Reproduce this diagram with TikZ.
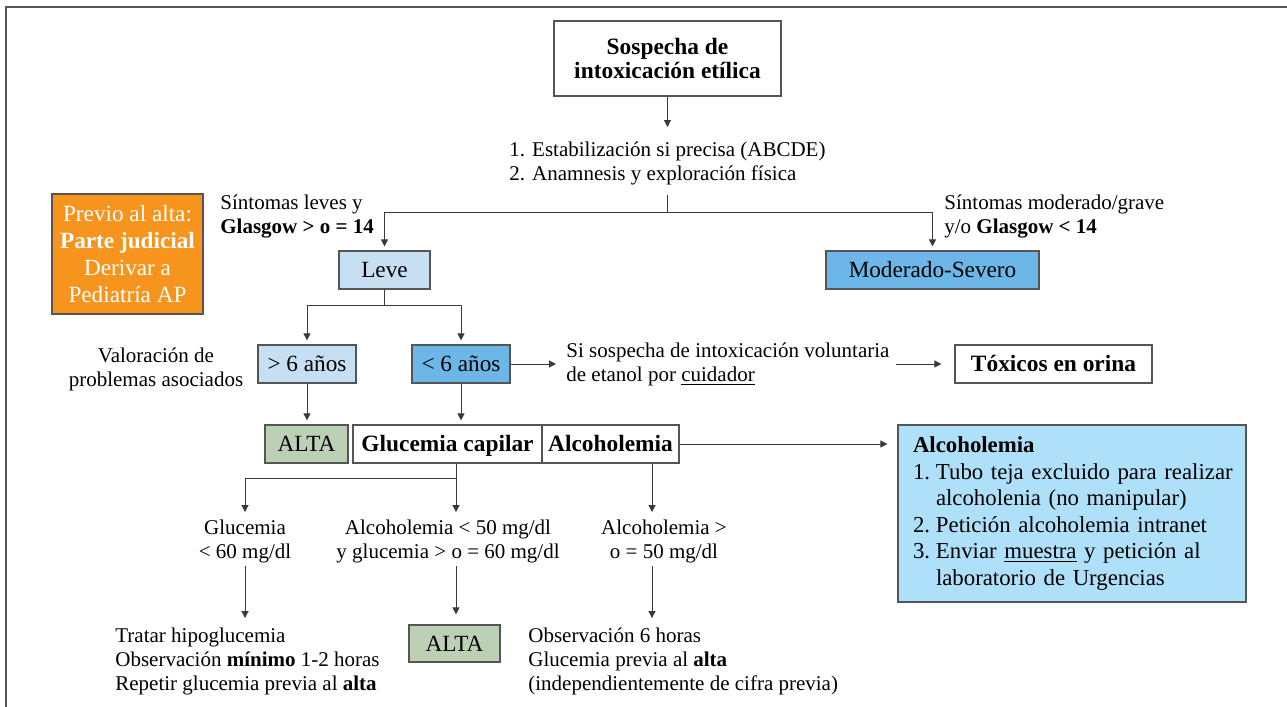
\documentclass[tikz,border=0pt]{standalone}
\usepackage{fontspec}
\setmainfont{Liberation Serif}
\usetikzlibrary{arrows.meta}
\definecolor{celeste}{HTML}{C6DFF3}
\definecolor{azul}{HTML}{6CB6E8}
\definecolor{verde}{HTML}{BCD0B6}
\definecolor{naranja}{HTML}{F7941E}
\definecolor{cielo}{HTML}{AEE0F9}
\definecolor{trazo}{HTML}{3A3A3A}
\definecolor{borde}{HTML}{555555}
\tikzset{
  caja/.style={draw=borde,line width=0.6pt,inner sep=0pt,align=center,minimum height=19pt,font=\fontsize{11.6}{12}\selectfont},
  fila/.style={caja,text height=8pt,text depth=0.4pt},
  negrita/.style={font=\fontsize{11.7}{12}\selectfont\bfseries},
  flecha/.style={draw=trazo,line width=0.5pt,-{Triangle[length=3.5pt,width=3.5pt]},shorten >=2pt},
  linea/.style={draw=trazo,line width=0.5pt},
  texto/.style={inner sep=1.5pt,align=center}
}
\begin{document}
\begin{tikzpicture}[x=0.5pt,y=-0.5pt,font=\fontsize{10.5}{12}\selectfont]
		\useasboundingbox (0,0) rectangle (1287,707);
		\draw[borde,line width=0.7pt] (6,707) -- (6,7) -- (1287,7);

		\node[caja,negrita,minimum width=113.5pt,minimum height=37.5pt] (sospecha) at (667.5,58.5) {Sospecha de\\intoxicación etílica};
		\node[texto,align=left,inner sep=5pt] (pasos) at (667.5,163) {1. Estabilización si precisa (ABCDE)\\2. Anamnesis y exploración física};
		\coordinate (c1) at (667.5,212);

		\node[caja,fill=naranja,text=white,minimum width=75.5pt,minimum height=60pt,font=\fontsize{11.6}{13.5}\selectfont] (previo) at (127.5,254) {Previo al alta:\\\textbf{Parte judicial}\\Derivar a\\Pediatría AP};

		\node[texto,align=left,anchor=west] (tleve) at (217,217) {Síntomas leves y\\\textbf{Glasgow > o = 14}};
		\node[texto,align=left,anchor=west] (tmod) at (941,217) {Síntomas moderado/grave\\y/o \textbf{Glasgow < 14}};
		\node[fila,fill=celeste,minimum width=45.5pt] (leve) at (384.5,270) {Leve};
		\node[fila,fill=azul,minimum width=106.5pt] (mod) at (932.5,270) {Moderado-Severo};
		\coordinate (c2) at (384.5,305);

		\node[texto] (valor) at (156,369) {Valoración de\\problemas asociados};
		\node[fila,fill=celeste,minimum width=49pt] (mayor) at (307,364) {> 6 años};
		\node[fila,fill=azul,minimum width=49pt] (menor) at (461,364) {< 6 años};
		\node[texto,align=left,anchor=west,inner sep=3pt] (cuidador) at (560,364) {Si sospecha de intoxicación voluntaria\\de etanol por \underline{cuidador}};
		\node[fila,negrita,minimum width=98.5pt] (orina) at (1053.5,364) {Tóxicos en orina};

		\node[fila,fill=verde,minimum width=41.5pt] (alta1) at (306.5,444) {ALTA};
		\node[fila,negrita,minimum width=94.5pt] (gluc) at (447.5,444) {Glucemia capilar};
		\node[fila,negrita,minimum width=68.5pt] (alco) at (610.5,444) {Alcoholemia};
		\node[caja,fill=cielo,minimum height=88.5pt,inner xsep=7.5pt,text width=159pt,align=left,font=\fontsize{11.4}{13.25}\selectfont] (lab) at (1072,513.5) {%
			\begin{tabular}{@{}p{11.5pt}@{}l@{}}
			\multicolumn{2}{@{}l@{}}{\textbf{Alcoholemia}}\\
			1. & Tubo teja excluido para realizar\\
			   & alcoholenia (no manipular)\\
			2. & Petición alcoholemia intranet\\
			3. & Enviar \underline{muestra} y petición al\\
			   & laboratorio de Urgencias
			\end{tabular}};
		\coordinate (c3) at (456,478);
		\coordinate (c4) at (652,478);

		\node[texto] (r1) at (245,541) {Glucemia\\< 60 mg/dl};
		\node[texto] (r2) at (448,541) {Alcoholemia < 50 mg/dl\\y glucemia > o = 60 mg/dl};
		\node[texto] (r3) at (664,541) {Alcoholemia >\\o = 50 mg/dl};

		\node[texto,align=left,anchor=west] (fin1) at (112,661) {Tratar hipoglucemia\\Observación \textbf{mínimo} 1-2 horas\\Repetir glucemia previa al \textbf{alta}};
		\node[fila,fill=verde,minimum width=45.5pt,minimum height=18.5pt] (alta2) at (454.5,643.5) {ALTA};
		\node[texto,align=left,anchor=west] (fin2) at (525,661) {Observación 6 horas\\Glucemia previa al \textbf{alta}\\(independientemente de cifra previa)};

		\draw[flecha] (sospecha) to (pasos);
		\draw[linea] (pasos) to (c1);
		\draw[flecha] (c1) -| (leve); \draw[flecha] (c1) -| (mod);
		\draw[linea] (leve) to (c2);
		\draw[flecha] (c2) -| (mayor); \draw[flecha] (c2) -| (menor);
		\draw[flecha] (menor) to (cuidador);
		\draw[flecha,shorten >=6.5pt] (cuidador) to (orina);
		\draw[flecha] (mayor.south) to (mayor.south |- alta1.north);
		\draw[flecha] (menor.south) to (menor.south |- gluc.north);
		\draw[flecha,shorten >=5pt] (alco) to (alco.east -| lab.west);
		\draw[linea] (c3 |- gluc.south) to (c3);
		\draw[flecha] (c3) -| (r1);
		\draw[flecha] (c3) to (c3 |- r2.north);
		\draw[flecha] (c4 |- alco.south) to (c4 |- r3.north);
		\draw[flecha,shorten >=3pt] (r1) to (r1.south |- fin1.north);
		\draw[flecha,shorten >=5pt] (c3 |- r2.south) to (c3 |- alta2.north);
		\draw[flecha,shorten >=3pt] (c4 |- r3.south) to (c4 |- fin2.north);
\end{tikzpicture}
\end{document}
